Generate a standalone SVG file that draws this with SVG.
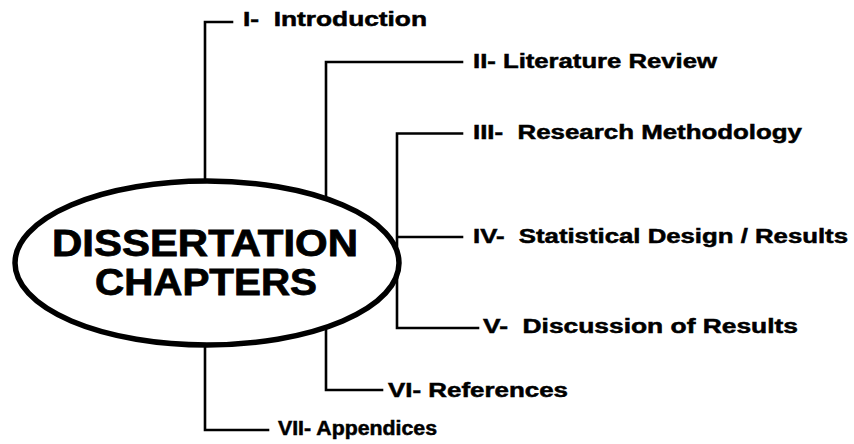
<svg xmlns="http://www.w3.org/2000/svg" width="854" height="444" viewBox="0 0 854 444">
<style>
.lbl{font-family:"Liberation Sans",Arial,sans-serif;font-weight:bold;font-size:20px;fill:#000;stroke:#000;stroke-width:0.5}
.hub{font-family:"Liberation Sans",Arial,sans-serif;font-weight:bold;font-size:36px;fill:#000;stroke:#000;stroke-width:0.8;text-anchor:middle}
.ln{fill:none;stroke:#000;stroke-width:2.6;stroke-linecap:square;stroke-linejoin:miter}
</style>
<rect width="854" height="444" fill="#fff"/>
<g id="connectors">
<path class="ln" d="M205 181 V22 H232"/>
<path class="ln" d="M326 199 V62 H462"/>
<path class="ln" d="M397 133.5 H462 M397 133.5 V328 H478"/>
<path class="ln" d="M398 237 H462"/>
<path class="ln" d="M326 330 V390 H382"/>
<path class="ln" d="M205 346 V430 H268"/>
</g>
<g id="hub">
<ellipse cx="207" cy="263" rx="192" ry="82" fill="#fff" stroke="#000" stroke-width="5.5"/>
<text class="hub" x="205" y="256" textLength="306" lengthAdjust="spacingAndGlyphs">DISSERTATION</text>
<text class="hub" x="206" y="295" textLength="222" lengthAdjust="spacingAndGlyphs">CHAPTERS</text>
</g>
<g id="ch1"><text class="lbl" x="243" y="26" textLength="184" lengthAdjust="spacingAndGlyphs" xml:space="preserve">I-  Introduction</text></g>
<g id="ch2"><text class="lbl" x="473" y="68" textLength="244" lengthAdjust="spacingAndGlyphs">II- Literature Review</text></g>
<g id="ch3"><text class="lbl" x="473" y="139" textLength="329" lengthAdjust="spacingAndGlyphs" xml:space="preserve">III-  Research Methodology</text></g>
<g id="ch4"><text class="lbl" x="473" y="243" textLength="375" lengthAdjust="spacingAndGlyphs" xml:space="preserve">IV-  Statistical Design / Results</text></g>
<g id="ch5"><text class="lbl" x="483" y="333" textLength="315" lengthAdjust="spacingAndGlyphs" xml:space="preserve">V-  Discussion of Results</text></g>
<g id="ch6"><text class="lbl" x="388" y="397" textLength="180" lengthAdjust="spacingAndGlyphs">VI- References</text></g>
<g id="ch7"><text class="lbl" x="278" y="435" textLength="159" lengthAdjust="spacingAndGlyphs">VII- Appendices</text></g>
</svg>
